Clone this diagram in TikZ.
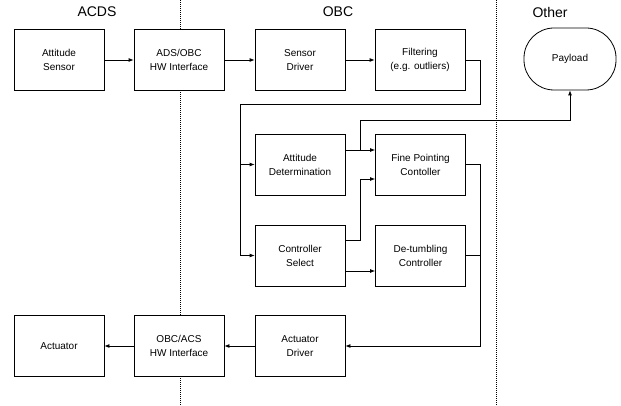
\documentclass[tikz,border=0pt]{standalone}
\usepackage{fontspec}
\setmainfont{Liberation Sans}
\usetikzlibrary{arrows.meta}
\begin{document}
\begin{tikzpicture}[x=1pt,y=-1pt,
  blk/.style={draw,fill=white,line width=0.8pt,minimum width=90pt,minimum height=61pt,inner sep=1pt,align=center,font=\fontsize{10}{14}\selectfont},
  conn/.style={line width=0.8pt},
  arr/.style={conn,-{Latex[length=5pt,width=4pt]}},
  sep/.style={line width=0.6pt,dash pattern=on 1pt off 1pt},
  ttl/.style={font=\fontsize{14}{16}\selectfont}]
\useasboundingbox (0,0) rectangle (621,406);
\draw[sep] (180,0) -- (180,406);
\draw[sep] (496,0) -- (496,406);
\node[ttl] (tacds) at (97,12) {ACDS};
\node[ttl] (tobc) at (338,12) {OBC};
\node[ttl] (tother) at (550,12) {Other};
\node[blk] (as) at (59,60) {Attitude\\Sensor};
\node[blk] (ads) at (179,60) {ADS/OBC\\HW Interface};
\node[blk] (sd) at (300,60) {Sensor\\Driver};
\node[blk] (filt) at (420,60) {Filtering\\(e.g. outliers)};
\node[draw,line width=0.8pt,minimum width=92pt,minimum height=62pt,rounded corners=30pt,font=\fontsize{10}{14}\selectfont] (pay) at (570,59) {Payload};
\node[blk] (ad) at (300,164.5) {Attitude\\Determination};
\node[blk] (fpc) at (420.5,164.5) {Fine Pointing\\Contoller};
\node[blk] (cs) at (300,255.5) {Controller\\Select};
\node[blk] (dc) at (420.5,255.5) {De-tumbling\\Controller};
\node[blk] (act) at (59,346) {Actuator};
\node[blk] (obc) at (179,346) {OBC/ACS\\HW Interface};
\node[blk] (actd) at (300,346) {Actuator\\Driver};
\coordinate (f1) at (480,104);
\coordinate (f2) at (240,104);
\coordinate (f3) at (240,164.5);
\coordinate (j1) at (360,150);
\coordinate (j2) at (360,120);
\coordinate (c1) at (360,240);
\coordinate (c2) at (360,179);
\coordinate (y271) at (0,271);
\coordinate (r1) at (480,164.5);
\coordinate (r2) at (480,346);
\draw[arr] (as) -- (ads);
\draw[arr] (ads) -- (sd);
\draw[arr] (sd) -- (filt);
\draw[arr] (filt.east) -| (f1) -- (f2) -- (f3) -- (ad.west);
\draw[arr] (f3) |- (cs.west);
\draw[arr] (ad.east |- j1) -- (fpc.west |- j1);
\draw[arr] (j1) -- (j2) -| (pay.south);
\draw[arr] (cs.east |- c1) -- (c1) -- (c2) -- (fpc.west |- c2);
\draw[arr] (cs.east |- y271) -- (dc.west |- y271);
\draw[conn] (fpc.east) -- (r1);
\draw[conn] (dc.east) -- (r1 |- dc.east);
\draw[arr] (r1) -- (r2) -- (actd.east);
\draw[arr] (actd) -- (obc);
\draw[arr] (obc) -- (act);
\end{tikzpicture}
\end{document}
